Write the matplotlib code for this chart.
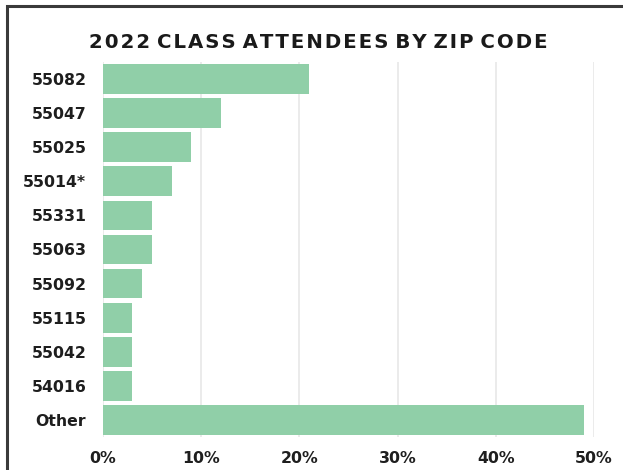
import matplotlib.pyplot as plt
from matplotlib.patches import Rectangle
from matplotlib.ticker import PercentFormatter

# data
zip_codes = ["55082", "55047", "55025", "55014*", "55331", "55063",
             "55092", "55115", "55042", "54016", "Other"]
shares = [21, 12, 9, 7, 5, 5, 4, 3, 3, 3, 49]

plt.rcParams['font.family'] = ['DejaVu Sans']

fig = plt.figure(figsize=(6.23, 4.70), dpi=100)
ax = fig.add_axes([103 / 623, 1 - 437 / 470, (594 - 103) / 623, (437 - 62) / 470])

# frame around the whole card (only top/left are visible in the crop)
fig.patches.append(Rectangle((7 / 623, -0.1), 1.2, 1.1 - 6 / 470,
                             transform=fig.transFigure, fill=False,
                             edgecolor='#3a3a3a', linewidth=2.2))

pos = list(range(len(zip_codes)))
ax.barh(pos, shares, height=0.87, color='#90cfa8', zorder=2)

ax.set_xlim(0, 50)
ax.set_ylim(len(zip_codes) - 0.5, -0.5)
ax.set_xticks([0, 10, 20, 30, 40, 50])
ax.xaxis.set_major_formatter(PercentFormatter(decimals=0))
ax.set_yticks(pos)
ax.set_yticklabels(zip_codes)

ax.grid(axis='x', color='#e6e6e6', linewidth=1.1, zorder=0)
for s in ax.spines.values():
    s.set_visible(False)
ax.tick_params(axis='both', length=0, labelsize=11.3, labelcolor='#1e1e1e')
ax.tick_params(axis='y', pad=12)
ax.tick_params(axis='x', pad=10)
for lbl in ax.get_xticklabels() + ax.get_yticklabels():
    lbl.set_fontweight('bold')

# title with a little letter spacing (hair spaces between letters)
title = "2022 CLASS ATTENDEES BY ZIP CODE"
spaced = " ".join("\u200a".join(w) for w in title.split(" "))
fig.text(0.511, 1 - 43 / 470, spaced,
         ha='center', va='center', fontsize=14.2, fontweight='bold', color='#1a1a1a')

fig.savefig('out.png', dpi=100)
